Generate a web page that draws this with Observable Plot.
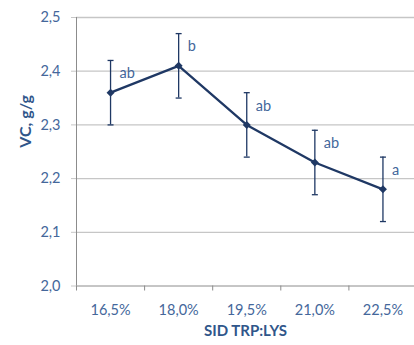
<!DOCTYPE html>
<html>
<head>
<meta charset="utf-8">
<script src="https://cdn.jsdelivr.net/npm/d3@7"></script>
<script src="https://cdn.jsdelivr.net/npm/@observablehq/plot@0.6"></script>
<style>
  html, body { margin: 0; padding: 0; background: #ffffff; }
  #chart { width: 414px; height: 345px; }
</style>
</head>
<body>
<div id="chart"></div>
<script>
// SID TRP:LYS levels and the measured VC (g/g) with its error
const categories = ["16,5%", "18,0%", "19,5%", "21,0%", "22,5%"];
const vcValues = [2.36, 2.41, 2.30, 2.23, 2.18];
const vcError = [0.06, 0.06, 0.06, 0.06, 0.06];
const letters = ["ab", "b", "ab", "ab", "a"];
const yTicks = [2.0, 2.1, 2.2, 2.3, 2.4, 2.5];

const rows = categories.map((cat, i) => ({
  i,
  cat,
  vc: vcValues[i],
  lo: vcValues[i] - vcError[i],
  hi: vcValues[i] + vcError[i],
  sig: letters[i]
}));

// category slots are laid out on an index axis; boundaries sit halfway between
const centers = categories.map((_, i) => i);
const boundaries = [-0.5, ...categories.map((_, i) => i + 0.5)];

const navy = "#1f3864";
const labelBlue = "#44679b";
const titleBlue = "#30568a";
const gridGray = "#c6c6c6";
const axisGray = "#8c8c8c";

// short horizontal stroke used for the error-bar caps
const capSymbol = {
  draw(context) {
    context.moveTo(-3, 0);
    context.lineTo(3, 0);
  }
};

const chart = Plot.plot({
  width: 414,
  height: 345,
  marginLeft: 76,
  marginRight: 0,
  marginTop: 17,
  marginBottom: 59.5,
  style: { fontFamily: "Lato, 'Open Sans', sans-serif", fontSize: "14.5px", background: "#ffffff" },
  x: { type: "linear", domain: [-0.5, categories.length - 0.5], range: [76, 416.5] },
  y: { domain: [2.0, 2.5], range: [285.5, 17] },
  marks: [
    Plot.ruleY(yTicks.slice(1), { stroke: gridGray, strokeWidth: 1.3 }),
    Plot.axisY({
      ticks: yTicks,
      tickFormat: d => d.toFixed(1).replace(".", ","),
      tickSize: 5,
      tickPadding: 11,
      stroke: gridGray,
      fill: labelBlue,
      fontSize: 14.5,
      label: null
    }),
    Plot.ruleX([-0.5], { stroke: axisGray }),
    Plot.ruleY([2.0], { stroke: axisGray }),
    Plot.axisX({
      ticks: boundaries,
      tickSize: 5,
      tickFormat: () => "",
      stroke: axisGray,
      label: null
    }),
    Plot.axisX({
      ticks: centers,
      tickSize: 0,
      tickPadding: 19,
      tickFormat: i => categories[i],
      fill: labelBlue,
      fontSize: 14.5,
      label: null
    }),
    Plot.ruleX(rows, { x: "i", y1: "lo", y2: "hi", stroke: navy, strokeWidth: 1.3 }),
    Plot.dot(rows, { x: "i", y: "lo", symbol: capSymbol, stroke: navy, strokeWidth: 1.3 }),
    Plot.dot(rows, { x: "i", y: "hi", symbol: capSymbol, stroke: navy, strokeWidth: 1.3 }),
    Plot.line(rows, { x: "i", y: "vc", stroke: navy, strokeWidth: 2.3 }),
    Plot.dot(rows, { x: "i", y: "vc", symbol: "diamond2", r: 3.6, fill: navy, stroke: "none" }),
    Plot.text(rows, {
      x: "i", y: "vc", text: "sig",
      dx: 9, dy: -19, textAnchor: "start",
      fill: labelBlue, fontSize: 14.5
    }),
    Plot.text(["SID TRP:LYS"], {
      frameAnchor: "bottom", dy: 49.5,
      fontWeight: "bold", fill: titleBlue, fontSize: 15
    }),
    Plot.text(["VC, g/g"], {
      frameAnchor: "left", rotate: -90, dx: -51, dy: -4,
      fontWeight: "bold", fill: titleBlue, fontSize: 16
    })
  ]
});

document.getElementById("chart").appendChild(chart);
</script>
</body>
</html>
